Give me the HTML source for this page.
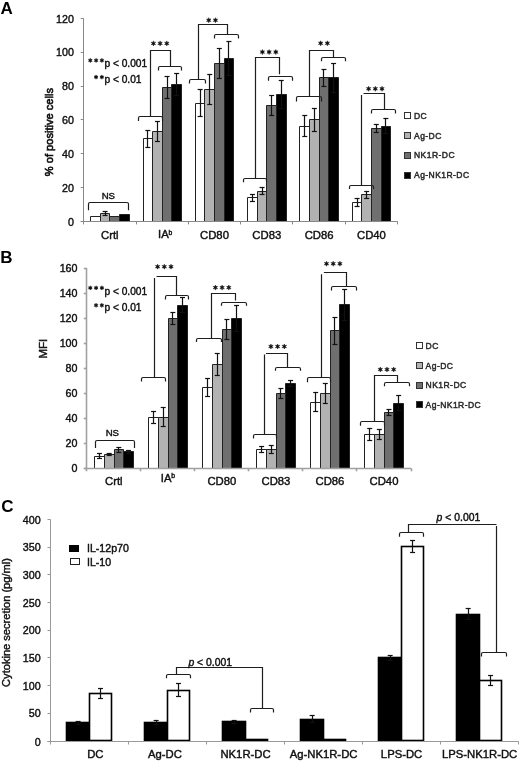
<!DOCTYPE html><html><head><meta charset="utf-8"><style>html,body{margin:0;padding:0;background:#fff;}svg{display:block;will-change:transform;}text{font-family:"Liberation Sans", sans-serif;}</style></head><body>
<svg width="520" height="762" viewBox="0 0 520 762">
<rect x="0" y="0" width="520" height="762" fill="#fff"/>
<text x="0.6" y="13.6" font-size="17" text-anchor="start" font-weight="bold" fill="#000" >A</text>
<text x="0.3" y="262.6" font-size="17" text-anchor="start" font-weight="bold" fill="#000" >B</text>
<text x="1.2" y="512.4" font-size="17" text-anchor="start" font-weight="bold" fill="#000" >C</text>
<rect x="90.5" y="216.5" width="10" height="5.5" fill="#ffffff"/>
<path d="M90.5 222 V216.5 H100.5 V222" fill="none" stroke="#222" stroke-width="1.0"/>
<rect x="100.5" y="213.5" width="9" height="8.5" fill="#b2b2b2"/>
<path d="M100.5 222 V213.5 H109.5 V222" fill="none" stroke="#222" stroke-width="1.0"/>
<rect x="109.5" y="216.5" width="10" height="5.5" fill="#6f6f6f"/>
<path d="M109.5 222 V216.5 H119.5 V222" fill="none" stroke="#222" stroke-width="1.0"/>
<rect x="119.5" y="214.5" width="10" height="7.5" fill="#000000"/>
<path d="M119.5 222 V214.5 H129.5 V222" fill="none" stroke="#222" stroke-width="1.0"/>
<line x1="105.5" y1="211.25" x2="105.5" y2="215.99" stroke="#111" stroke-width="1.2"/>
<line x1="102.6" y1="211.5" x2="107.6" y2="211.5" stroke="#111" stroke-width="1.2"/>
<line x1="102.6" y1="215.5" x2="107.6" y2="215.5" stroke="#111" stroke-width="1.2"/>
<rect x="143.5" y="138.5" width="9" height="83.5" fill="#ffffff"/>
<path d="M143.5 222 V138.5 H152.5 V222" fill="none" stroke="#222" stroke-width="1.0"/>
<rect x="152.5" y="131.5" width="10" height="90.5" fill="#b2b2b2"/>
<path d="M152.5 222 V131.5 H162.5 V222" fill="none" stroke="#222" stroke-width="1.0"/>
<rect x="162.5" y="87.5" width="9" height="134.5" fill="#6f6f6f"/>
<path d="M162.5 222 V87.5 H171.5 V222" fill="none" stroke="#222" stroke-width="1.0"/>
<rect x="171.5" y="84.5" width="10" height="137.5" fill="#000000"/>
<path d="M171.5 222 V84.5 H181.5 V222" fill="none" stroke="#222" stroke-width="1.0"/>
<line x1="147.5" y1="130.09" x2="147.5" y2="147" stroke="#111" stroke-width="1.2"/>
<line x1="145.32" y1="130.5" x2="150.32" y2="130.5" stroke="#111" stroke-width="1.2"/>
<line x1="145.32" y1="147.5" x2="150.32" y2="147.5" stroke="#111" stroke-width="1.2"/>
<line x1="157.5" y1="121.64" x2="157.5" y2="141.93" stroke="#111" stroke-width="1.2"/>
<line x1="154.92" y1="121.5" x2="159.92" y2="121.5" stroke="#111" stroke-width="1.2"/>
<line x1="154.92" y1="141.5" x2="159.92" y2="141.5" stroke="#111" stroke-width="1.2"/>
<line x1="167.5" y1="76.83" x2="167.5" y2="98.81" stroke="#111" stroke-width="1.2"/>
<line x1="164.52" y1="76.5" x2="169.52" y2="76.5" stroke="#111" stroke-width="1.2"/>
<line x1="164.52" y1="98.5" x2="169.52" y2="98.5" stroke="#111" stroke-width="1.2"/>
<line x1="176.5" y1="73.79" x2="176.5" y2="95.09" stroke="#111" stroke-width="1.2"/>
<line x1="174.12" y1="73.5" x2="179.12" y2="73.5" stroke="#111" stroke-width="1.2"/>
<line x1="174.12" y1="95.5" x2="179.12" y2="95.5" stroke="#111" stroke-width="1.2"/>
<rect x="195.5" y="103.5" width="9" height="118.5" fill="#ffffff"/>
<path d="M195.5 222 V103.5 H204.5 V222" fill="none" stroke="#222" stroke-width="1.0"/>
<rect x="204.5" y="89.5" width="10" height="132.5" fill="#b2b2b2"/>
<path d="M204.5 222 V89.5 H214.5 V222" fill="none" stroke="#222" stroke-width="1.0"/>
<rect x="214.5" y="63.5" width="10" height="158.5" fill="#6f6f6f"/>
<path d="M214.5 222 V63.5 H224.5 V222" fill="none" stroke="#222" stroke-width="1.0"/>
<rect x="224.5" y="58.5" width="9" height="163.5" fill="#000000"/>
<path d="M224.5 222 V58.5 H233.5 V222" fill="none" stroke="#222" stroke-width="1.0"/>
<line x1="200.5" y1="89.51" x2="200.5" y2="116.57" stroke="#111" stroke-width="1.2"/>
<line x1="197.63" y1="89.5" x2="202.63" y2="89.5" stroke="#111" stroke-width="1.2"/>
<line x1="197.63" y1="116.5" x2="202.63" y2="116.5" stroke="#111" stroke-width="1.2"/>
<line x1="209.5" y1="74.3" x2="209.5" y2="104.73" stroke="#111" stroke-width="1.2"/>
<line x1="207.23" y1="74.5" x2="212.23" y2="74.5" stroke="#111" stroke-width="1.2"/>
<line x1="207.23" y1="104.5" x2="212.23" y2="104.5" stroke="#111" stroke-width="1.2"/>
<line x1="219.5" y1="48.26" x2="219.5" y2="78.69" stroke="#111" stroke-width="1.2"/>
<line x1="216.83" y1="48.5" x2="221.83" y2="48.5" stroke="#111" stroke-width="1.2"/>
<line x1="216.83" y1="78.5" x2="221.83" y2="78.5" stroke="#111" stroke-width="1.2"/>
<line x1="228.5" y1="41.33" x2="228.5" y2="75.14" stroke="#111" stroke-width="1.2"/>
<line x1="226.43" y1="41.5" x2="231.43" y2="41.5" stroke="#111" stroke-width="1.2"/>
<line x1="226.43" y1="75.5" x2="231.43" y2="75.5" stroke="#111" stroke-width="1.2"/>
<rect x="247.5" y="197.5" width="10" height="24.5" fill="#ffffff"/>
<path d="M247.5 222 V197.5 H257.5 V222" fill="none" stroke="#222" stroke-width="1.0"/>
<rect x="257.5" y="191.5" width="9" height="30.5" fill="#b2b2b2"/>
<path d="M257.5 222 V191.5 H266.5 V222" fill="none" stroke="#222" stroke-width="1.0"/>
<rect x="266.5" y="105.5" width="10" height="116.5" fill="#6f6f6f"/>
<path d="M266.5 222 V105.5 H276.5 V222" fill="none" stroke="#222" stroke-width="1.0"/>
<rect x="276.5" y="94.5" width="10" height="127.5" fill="#000000"/>
<path d="M276.5 222 V94.5 H286.5 V222" fill="none" stroke="#222" stroke-width="1.0"/>
<line x1="252.5" y1="194.35" x2="252.5" y2="201.11" stroke="#111" stroke-width="1.2"/>
<line x1="249.95" y1="194.5" x2="254.95" y2="194.5" stroke="#111" stroke-width="1.2"/>
<line x1="249.95" y1="201.5" x2="254.95" y2="201.5" stroke="#111" stroke-width="1.2"/>
<line x1="262.5" y1="187.92" x2="262.5" y2="194.68" stroke="#111" stroke-width="1.2"/>
<line x1="259.55" y1="187.5" x2="264.55" y2="187.5" stroke="#111" stroke-width="1.2"/>
<line x1="259.55" y1="194.5" x2="264.55" y2="194.5" stroke="#111" stroke-width="1.2"/>
<line x1="271.5" y1="95.09" x2="271.5" y2="115.38" stroke="#111" stroke-width="1.2"/>
<line x1="269.15" y1="95.5" x2="274.15" y2="95.5" stroke="#111" stroke-width="1.2"/>
<line x1="269.15" y1="115.5" x2="274.15" y2="115.5" stroke="#111" stroke-width="1.2"/>
<line x1="281.5" y1="80.22" x2="281.5" y2="108.28" stroke="#111" stroke-width="1.2"/>
<line x1="278.75" y1="80.5" x2="283.75" y2="80.5" stroke="#111" stroke-width="1.2"/>
<line x1="278.75" y1="108.5" x2="283.75" y2="108.5" stroke="#111" stroke-width="1.2"/>
<rect x="299.5" y="126.5" width="10" height="95.5" fill="#ffffff"/>
<path d="M299.5 222 V126.5 H309.5 V222" fill="none" stroke="#222" stroke-width="1.0"/>
<rect x="309.5" y="119.5" width="10" height="102.5" fill="#b2b2b2"/>
<path d="M309.5 222 V119.5 H319.5 V222" fill="none" stroke="#222" stroke-width="1.0"/>
<rect x="319.5" y="77.5" width="9" height="144.5" fill="#6f6f6f"/>
<path d="M319.5 222 V77.5 H328.5 V222" fill="none" stroke="#222" stroke-width="1.0"/>
<rect x="328.5" y="77.5" width="10" height="144.5" fill="#000000"/>
<path d="M328.5 222 V77.5 H338.5 V222" fill="none" stroke="#222" stroke-width="1.0"/>
<line x1="304.5" y1="115.89" x2="304.5" y2="136.18" stroke="#111" stroke-width="1.2"/>
<line x1="302.27" y1="115.5" x2="307.27" y2="115.5" stroke="#111" stroke-width="1.2"/>
<line x1="302.27" y1="136.5" x2="307.27" y2="136.5" stroke="#111" stroke-width="1.2"/>
<line x1="314.5" y1="108.11" x2="314.5" y2="131.79" stroke="#111" stroke-width="1.2"/>
<line x1="311.87" y1="108.5" x2="316.87" y2="108.5" stroke="#111" stroke-width="1.2"/>
<line x1="311.87" y1="131.5" x2="316.87" y2="131.5" stroke="#111" stroke-width="1.2"/>
<line x1="323.5" y1="69.56" x2="323.5" y2="86.13" stroke="#111" stroke-width="1.2"/>
<line x1="321.47" y1="69.5" x2="326.47" y2="69.5" stroke="#111" stroke-width="1.2"/>
<line x1="321.47" y1="86.5" x2="326.47" y2="86.5" stroke="#111" stroke-width="1.2"/>
<line x1="333.5" y1="63.31" x2="333.5" y2="92.05" stroke="#111" stroke-width="1.2"/>
<line x1="331.07" y1="63.5" x2="336.07" y2="63.5" stroke="#111" stroke-width="1.2"/>
<line x1="331.07" y1="92.5" x2="336.07" y2="92.5" stroke="#111" stroke-width="1.2"/>
<rect x="352.5" y="202.5" width="9" height="19.5" fill="#ffffff"/>
<path d="M352.5 222 V202.5 H361.5 V222" fill="none" stroke="#222" stroke-width="1.0"/>
<rect x="361.5" y="194.5" width="10" height="27.5" fill="#b2b2b2"/>
<path d="M361.5 222 V194.5 H371.5 V222" fill="none" stroke="#222" stroke-width="1.0"/>
<rect x="371.5" y="128.5" width="10" height="93.5" fill="#6f6f6f"/>
<path d="M371.5 222 V128.5 H381.5 V222" fill="none" stroke="#222" stroke-width="1.0"/>
<rect x="381.5" y="126.5" width="9" height="95.5" fill="#000000"/>
<path d="M381.5 222 V126.5 H390.5 V222" fill="none" stroke="#222" stroke-width="1.0"/>
<line x1="357.5" y1="198.07" x2="357.5" y2="206.52" stroke="#111" stroke-width="1.2"/>
<line x1="354.58" y1="198.5" x2="359.58" y2="198.5" stroke="#111" stroke-width="1.2"/>
<line x1="354.58" y1="206.5" x2="359.58" y2="206.5" stroke="#111" stroke-width="1.2"/>
<line x1="366.5" y1="191.3" x2="366.5" y2="198.07" stroke="#111" stroke-width="1.2"/>
<line x1="364.18" y1="191.5" x2="369.18" y2="191.5" stroke="#111" stroke-width="1.2"/>
<line x1="364.18" y1="198.5" x2="369.18" y2="198.5" stroke="#111" stroke-width="1.2"/>
<line x1="376.5" y1="124.18" x2="376.5" y2="132.63" stroke="#111" stroke-width="1.2"/>
<line x1="373.78" y1="124.5" x2="378.78" y2="124.5" stroke="#111" stroke-width="1.2"/>
<line x1="373.78" y1="132.5" x2="378.78" y2="132.5" stroke="#111" stroke-width="1.2"/>
<line x1="385.5" y1="118.43" x2="385.5" y2="133.98" stroke="#111" stroke-width="1.2"/>
<line x1="383.38" y1="118.5" x2="388.38" y2="118.5" stroke="#111" stroke-width="1.2"/>
<line x1="383.38" y1="133.5" x2="388.38" y2="133.5" stroke="#111" stroke-width="1.2"/>
<line x1="83.5" y1="18.5" x2="83.5" y2="221.4" stroke="#888" stroke-width="1.0"/>
<line x1="80.7" y1="221.5" x2="397.6" y2="221.5" stroke="#888" stroke-width="1.0"/>
<line x1="80.7" y1="221.5" x2="83.7" y2="221.5" stroke="#888" stroke-width="1.0"/>
<text transform="translate(73.9 225.5) scale(0.94 1)" font-size="11.4" text-anchor="end" font-weight="normal" fill="#111" stroke="#111" stroke-width="0.42" >0</text>
<line x1="80.7" y1="187.5" x2="83.7" y2="187.5" stroke="#888" stroke-width="1.0"/>
<text transform="translate(73.9 191.69) scale(0.94 1)" font-size="11.4" text-anchor="end" font-weight="normal" fill="#111" stroke="#111" stroke-width="0.42" >20</text>
<line x1="80.7" y1="153.5" x2="83.7" y2="153.5" stroke="#888" stroke-width="1.0"/>
<text transform="translate(73.9 157.87) scale(0.94 1)" font-size="11.4" text-anchor="end" font-weight="normal" fill="#111" stroke="#111" stroke-width="0.42" >40</text>
<line x1="80.7" y1="119.5" x2="83.7" y2="119.5" stroke="#888" stroke-width="1.0"/>
<text transform="translate(73.9 124.05) scale(0.94 1)" font-size="11.4" text-anchor="end" font-weight="normal" fill="#111" stroke="#111" stroke-width="0.42" >60</text>
<line x1="80.7" y1="86.5" x2="83.7" y2="86.5" stroke="#888" stroke-width="1.0"/>
<text transform="translate(73.9 90.24) scale(0.94 1)" font-size="11.4" text-anchor="end" font-weight="normal" fill="#111" stroke="#111" stroke-width="0.42" >80</text>
<line x1="80.7" y1="52.5" x2="83.7" y2="52.5" stroke="#888" stroke-width="1.0"/>
<text transform="translate(73.9 56.42) scale(0.94 1)" font-size="11.4" text-anchor="end" font-weight="normal" fill="#111" stroke="#111" stroke-width="0.42" >100</text>
<line x1="80.7" y1="18.5" x2="83.7" y2="18.5" stroke="#888" stroke-width="1.0"/>
<text transform="translate(73.9 22.6) scale(0.94 1)" font-size="11.4" text-anchor="end" font-weight="normal" fill="#111" stroke="#111" stroke-width="0.42" >120</text>
<line x1="83.5" y1="221.4" x2="83.5" y2="224.4" stroke="#888" stroke-width="1.0"/>
<line x1="136.5" y1="221.4" x2="136.5" y2="224.4" stroke="#888" stroke-width="1.0"/>
<line x1="188.5" y1="221.4" x2="188.5" y2="224.4" stroke="#888" stroke-width="1.0"/>
<line x1="240.5" y1="221.4" x2="240.5" y2="224.4" stroke="#888" stroke-width="1.0"/>
<line x1="292.5" y1="221.4" x2="292.5" y2="224.4" stroke="#888" stroke-width="1.0"/>
<line x1="345.5" y1="221.4" x2="345.5" y2="224.4" stroke="#888" stroke-width="1.0"/>
<line x1="397.5" y1="221.4" x2="397.5" y2="224.4" stroke="#888" stroke-width="1.0"/>
<text x="109.86" y="239.2" font-size="11.3" text-anchor="middle" font-weight="normal" fill="#111" stroke="#111" stroke-width="0.42" >Crtl</text>
<text x="165.18" y="238.2" font-size="11.3" text-anchor="middle" fill="#111" stroke="#111" stroke-width="0.42">IA<tspan font-size="6.8" dx="-0.3" dy="-3.3">b</tspan></text>
<text x="214.49" y="239.2" font-size="11.3" text-anchor="middle" font-weight="normal" fill="#111" stroke="#111" stroke-width="0.42" >CD80</text>
<text x="266.81" y="239.2" font-size="11.3" text-anchor="middle" font-weight="normal" fill="#111" stroke="#111" stroke-width="0.42" >CD83</text>
<text x="319.13" y="239.2" font-size="11.3" text-anchor="middle" font-weight="normal" fill="#111" stroke="#111" stroke-width="0.42" >CD86</text>
<text x="371.44" y="239.2" font-size="11.3" text-anchor="middle" font-weight="normal" fill="#111" stroke="#111" stroke-width="0.42" >CD40</text>
<text transform="translate(53.1 132.15) rotate(-90)" font-size="11.1" font-weight="normal" text-anchor="middle" fill="#111" stroke="#111" stroke-width="0.65">% of positive cells</text>
<rect x="94.5" y="456.5" width="10" height="12.5" fill="#ffffff"/>
<path d="M94.5 469 V456.5 H104.5 V469" fill="none" stroke="#222" stroke-width="1.0"/>
<rect x="104.5" y="454.5" width="10" height="14.5" fill="#b2b2b2"/>
<path d="M104.5 469 V454.5 H114.5 V469" fill="none" stroke="#222" stroke-width="1.0"/>
<rect x="114.5" y="449.5" width="9" height="19.5" fill="#6f6f6f"/>
<path d="M114.5 469 V449.5 H123.5 V469" fill="none" stroke="#222" stroke-width="1.0"/>
<rect x="123.5" y="451.5" width="10" height="17.5" fill="#000000"/>
<path d="M123.5 469 V451.5 H133.5 V469" fill="none" stroke="#222" stroke-width="1.0"/>
<line x1="99.5" y1="453.78" x2="99.5" y2="458.79" stroke="#111" stroke-width="1.2"/>
<line x1="97.03" y1="453.5" x2="102.03" y2="453.5" stroke="#111" stroke-width="1.2"/>
<line x1="97.03" y1="458.5" x2="102.03" y2="458.5" stroke="#111" stroke-width="1.2"/>
<line x1="109.5" y1="453.65" x2="109.5" y2="455.66" stroke="#111" stroke-width="1.2"/>
<line x1="106.68" y1="453.5" x2="111.68" y2="453.5" stroke="#111" stroke-width="1.2"/>
<line x1="106.68" y1="455.5" x2="111.68" y2="455.5" stroke="#111" stroke-width="1.2"/>
<line x1="118.5" y1="447.02" x2="118.5" y2="452.03" stroke="#111" stroke-width="1.2"/>
<line x1="116.33" y1="447.5" x2="121.33" y2="447.5" stroke="#111" stroke-width="1.2"/>
<line x1="116.33" y1="452.5" x2="121.33" y2="452.5" stroke="#111" stroke-width="1.2"/>
<line x1="128.5" y1="450.15" x2="128.5" y2="453.15" stroke="#111" stroke-width="1.2"/>
<line x1="125.97" y1="450.5" x2="130.97" y2="450.5" stroke="#111" stroke-width="1.2"/>
<line x1="125.97" y1="453.5" x2="130.97" y2="453.5" stroke="#111" stroke-width="1.2"/>
<rect x="148.5" y="417.5" width="10" height="51.5" fill="#ffffff"/>
<path d="M148.5 469 V417.5 H158.5 V469" fill="none" stroke="#222" stroke-width="1.0"/>
<rect x="158.5" y="417.5" width="10" height="51.5" fill="#b2b2b2"/>
<path d="M158.5 469 V417.5 H168.5 V469" fill="none" stroke="#222" stroke-width="1.0"/>
<rect x="168.5" y="318.5" width="9" height="150.5" fill="#6f6f6f"/>
<path d="M168.5 469 V318.5 H177.5 V469" fill="none" stroke="#222" stroke-width="1.0"/>
<rect x="177.5" y="305.5" width="10" height="163.5" fill="#000000"/>
<path d="M177.5 469 V305.5 H187.5 V469" fill="none" stroke="#222" stroke-width="1.0"/>
<line x1="153.5" y1="411.46" x2="153.5" y2="423.98" stroke="#111" stroke-width="1.2"/>
<line x1="151.06" y1="411.5" x2="156.06" y2="411.5" stroke="#111" stroke-width="1.2"/>
<line x1="151.06" y1="423.5" x2="156.06" y2="423.5" stroke="#111" stroke-width="1.2"/>
<line x1="163.5" y1="407.71" x2="163.5" y2="426.74" stroke="#111" stroke-width="1.2"/>
<line x1="160.71" y1="407.5" x2="165.71" y2="407.5" stroke="#111" stroke-width="1.2"/>
<line x1="160.71" y1="426.5" x2="165.71" y2="426.5" stroke="#111" stroke-width="1.2"/>
<line x1="172.5" y1="312.32" x2="172.5" y2="324.84" stroke="#111" stroke-width="1.2"/>
<line x1="170.36" y1="312.5" x2="175.36" y2="312.5" stroke="#111" stroke-width="1.2"/>
<line x1="170.36" y1="324.5" x2="175.36" y2="324.5" stroke="#111" stroke-width="1.2"/>
<line x1="182.5" y1="297.67" x2="182.5" y2="312.69" stroke="#111" stroke-width="1.2"/>
<line x1="180.01" y1="297.5" x2="185.01" y2="297.5" stroke="#111" stroke-width="1.2"/>
<line x1="180.01" y1="312.5" x2="185.01" y2="312.5" stroke="#111" stroke-width="1.2"/>
<rect x="202.5" y="387.5" width="10" height="81.5" fill="#ffffff"/>
<path d="M202.5 469 V387.5 H212.5 V469" fill="none" stroke="#222" stroke-width="1.0"/>
<rect x="212.5" y="364.5" width="10" height="104.5" fill="#b2b2b2"/>
<path d="M212.5 469 V364.5 H222.5 V469" fill="none" stroke="#222" stroke-width="1.0"/>
<rect x="222.5" y="329.5" width="9" height="139.5" fill="#6f6f6f"/>
<path d="M222.5 469 V329.5 H231.5 V469" fill="none" stroke="#222" stroke-width="1.0"/>
<rect x="231.5" y="318.5" width="10" height="150.5" fill="#000000"/>
<path d="M231.5 469 V318.5 H241.5 V469" fill="none" stroke="#222" stroke-width="1.0"/>
<line x1="207.5" y1="378.92" x2="207.5" y2="396.19" stroke="#111" stroke-width="1.2"/>
<line x1="205.09" y1="378.5" x2="210.09" y2="378.5" stroke="#111" stroke-width="1.2"/>
<line x1="205.09" y1="396.5" x2="210.09" y2="396.5" stroke="#111" stroke-width="1.2"/>
<line x1="217.5" y1="353.38" x2="217.5" y2="375.16" stroke="#111" stroke-width="1.2"/>
<line x1="214.74" y1="353.5" x2="219.74" y2="353.5" stroke="#111" stroke-width="1.2"/>
<line x1="214.74" y1="375.5" x2="219.74" y2="375.5" stroke="#111" stroke-width="1.2"/>
<line x1="226.5" y1="319.45" x2="226.5" y2="339.48" stroke="#111" stroke-width="1.2"/>
<line x1="224.39" y1="319.5" x2="229.39" y2="319.5" stroke="#111" stroke-width="1.2"/>
<line x1="224.39" y1="339.5" x2="229.39" y2="339.5" stroke="#111" stroke-width="1.2"/>
<line x1="236.5" y1="305.18" x2="236.5" y2="331.97" stroke="#111" stroke-width="1.2"/>
<line x1="234.04" y1="305.5" x2="239.04" y2="305.5" stroke="#111" stroke-width="1.2"/>
<line x1="234.04" y1="331.5" x2="239.04" y2="331.5" stroke="#111" stroke-width="1.2"/>
<rect x="256.5" y="449.5" width="10" height="19.5" fill="#ffffff"/>
<path d="M256.5 469 V449.5 H266.5 V469" fill="none" stroke="#222" stroke-width="1.0"/>
<rect x="266.5" y="449.5" width="10" height="19.5" fill="#b2b2b2"/>
<path d="M266.5 469 V449.5 H276.5 V469" fill="none" stroke="#222" stroke-width="1.0"/>
<rect x="276.5" y="393.5" width="9" height="75.5" fill="#6f6f6f"/>
<path d="M276.5 469 V393.5 H285.5 V469" fill="none" stroke="#222" stroke-width="1.0"/>
<rect x="285.5" y="383.5" width="10" height="85.5" fill="#000000"/>
<path d="M285.5 469 V383.5 H295.5 V469" fill="none" stroke="#222" stroke-width="1.0"/>
<line x1="261.5" y1="446.39" x2="261.5" y2="452.65" stroke="#111" stroke-width="1.2"/>
<line x1="259.12" y1="446.5" x2="264.12" y2="446.5" stroke="#111" stroke-width="1.2"/>
<line x1="259.12" y1="452.5" x2="264.12" y2="452.5" stroke="#111" stroke-width="1.2"/>
<line x1="271.5" y1="445.77" x2="271.5" y2="453.28" stroke="#111" stroke-width="1.2"/>
<line x1="268.77" y1="445.5" x2="273.77" y2="445.5" stroke="#111" stroke-width="1.2"/>
<line x1="268.77" y1="453.5" x2="273.77" y2="453.5" stroke="#111" stroke-width="1.2"/>
<line x1="280.5" y1="388.68" x2="280.5" y2="398.7" stroke="#111" stroke-width="1.2"/>
<line x1="278.42" y1="388.5" x2="283.42" y2="388.5" stroke="#111" stroke-width="1.2"/>
<line x1="278.42" y1="398.5" x2="283.42" y2="398.5" stroke="#111" stroke-width="1.2"/>
<line x1="290.5" y1="380.04" x2="290.5" y2="386.05" stroke="#111" stroke-width="1.2"/>
<line x1="288.07" y1="380.5" x2="293.07" y2="380.5" stroke="#111" stroke-width="1.2"/>
<line x1="288.07" y1="386.5" x2="293.07" y2="386.5" stroke="#111" stroke-width="1.2"/>
<rect x="310.5" y="402.5" width="10" height="66.5" fill="#ffffff"/>
<path d="M310.5 469 V402.5 H320.5 V469" fill="none" stroke="#222" stroke-width="1.0"/>
<rect x="320.5" y="393.5" width="10" height="75.5" fill="#b2b2b2"/>
<path d="M320.5 469 V393.5 H330.5 V469" fill="none" stroke="#222" stroke-width="1.0"/>
<rect x="330.5" y="330.5" width="9" height="138.5" fill="#6f6f6f"/>
<path d="M330.5 469 V330.5 H339.5 V469" fill="none" stroke="#222" stroke-width="1.0"/>
<rect x="339.5" y="304.5" width="10" height="164.5" fill="#000000"/>
<path d="M339.5 469 V304.5 H349.5 V469" fill="none" stroke="#222" stroke-width="1.0"/>
<line x1="315.5" y1="392.31" x2="315.5" y2="411.84" stroke="#111" stroke-width="1.2"/>
<line x1="313.16" y1="392.5" x2="318.16" y2="392.5" stroke="#111" stroke-width="1.2"/>
<line x1="313.16" y1="411.5" x2="318.16" y2="411.5" stroke="#111" stroke-width="1.2"/>
<line x1="325.5" y1="383.67" x2="325.5" y2="403.7" stroke="#111" stroke-width="1.2"/>
<line x1="322.81" y1="383.5" x2="327.81" y2="383.5" stroke="#111" stroke-width="1.2"/>
<line x1="322.81" y1="403.5" x2="327.81" y2="403.5" stroke="#111" stroke-width="1.2"/>
<line x1="334.5" y1="317.07" x2="334.5" y2="344.36" stroke="#111" stroke-width="1.2"/>
<line x1="332.46" y1="317.5" x2="337.46" y2="317.5" stroke="#111" stroke-width="1.2"/>
<line x1="332.46" y1="344.5" x2="337.46" y2="344.5" stroke="#111" stroke-width="1.2"/>
<line x1="344.5" y1="289.16" x2="344.5" y2="320.7" stroke="#111" stroke-width="1.2"/>
<line x1="342.11" y1="289.5" x2="347.11" y2="289.5" stroke="#111" stroke-width="1.2"/>
<line x1="342.11" y1="320.5" x2="347.11" y2="320.5" stroke="#111" stroke-width="1.2"/>
<rect x="364.5" y="434.5" width="10" height="34.5" fill="#ffffff"/>
<path d="M364.5 469 V434.5 H374.5 V469" fill="none" stroke="#222" stroke-width="1.0"/>
<rect x="374.5" y="434.5" width="10" height="34.5" fill="#b2b2b2"/>
<path d="M374.5 469 V434.5 H384.5 V469" fill="none" stroke="#222" stroke-width="1.0"/>
<rect x="384.5" y="412.5" width="9" height="56.5" fill="#6f6f6f"/>
<path d="M384.5 469 V412.5 H393.5 V469" fill="none" stroke="#222" stroke-width="1.0"/>
<rect x="393.5" y="403.5" width="10" height="65.5" fill="#000000"/>
<path d="M393.5 469 V403.5 H403.5 V469" fill="none" stroke="#222" stroke-width="1.0"/>
<line x1="369.5" y1="428.87" x2="369.5" y2="440.13" stroke="#111" stroke-width="1.2"/>
<line x1="367.19" y1="428.5" x2="372.19" y2="428.5" stroke="#111" stroke-width="1.2"/>
<line x1="367.19" y1="440.5" x2="372.19" y2="440.5" stroke="#111" stroke-width="1.2"/>
<line x1="379.5" y1="429.49" x2="379.5" y2="439.51" stroke="#111" stroke-width="1.2"/>
<line x1="376.84" y1="429.5" x2="381.84" y2="429.5" stroke="#111" stroke-width="1.2"/>
<line x1="376.84" y1="439.5" x2="381.84" y2="439.5" stroke="#111" stroke-width="1.2"/>
<line x1="388.5" y1="409.21" x2="388.5" y2="415.47" stroke="#111" stroke-width="1.2"/>
<line x1="386.49" y1="409.5" x2="391.49" y2="409.5" stroke="#111" stroke-width="1.2"/>
<line x1="386.49" y1="415.5" x2="391.49" y2="415.5" stroke="#111" stroke-width="1.2"/>
<line x1="398.5" y1="395.69" x2="398.5" y2="410.71" stroke="#111" stroke-width="1.2"/>
<line x1="396.14" y1="395.5" x2="401.14" y2="395.5" stroke="#111" stroke-width="1.2"/>
<line x1="396.14" y1="410.5" x2="401.14" y2="410.5" stroke="#111" stroke-width="1.2"/>
<line x1="86.5" y1="268" x2="86.5" y2="468.3" stroke="#a0a0a0" stroke-width="1.6"/>
<line x1="83.8" y1="468.5" x2="411" y2="468.5" stroke="#a0a0a0" stroke-width="1.6"/>
<line x1="83.8" y1="468.5" x2="86.8" y2="468.5" stroke="#a0a0a0" stroke-width="1.6"/>
<text transform="translate(77.5 472.4) scale(0.94 1)" font-size="11.4" text-anchor="end" font-weight="normal" fill="#111" stroke="#111" stroke-width="0.42" >0</text>
<line x1="83.8" y1="443.5" x2="86.8" y2="443.5" stroke="#a0a0a0" stroke-width="1.6"/>
<text transform="translate(77.5 447.37) scale(0.94 1)" font-size="11.4" text-anchor="end" font-weight="normal" fill="#111" stroke="#111" stroke-width="0.42" >20</text>
<line x1="83.8" y1="418.5" x2="86.8" y2="418.5" stroke="#a0a0a0" stroke-width="1.6"/>
<text transform="translate(77.5 422.33) scale(0.94 1)" font-size="11.4" text-anchor="end" font-weight="normal" fill="#111" stroke="#111" stroke-width="0.42" >40</text>
<line x1="83.8" y1="393.5" x2="86.8" y2="393.5" stroke="#a0a0a0" stroke-width="1.6"/>
<text transform="translate(77.5 397.29) scale(0.94 1)" font-size="11.4" text-anchor="end" font-weight="normal" fill="#111" stroke="#111" stroke-width="0.42" >60</text>
<line x1="83.8" y1="368.5" x2="86.8" y2="368.5" stroke="#a0a0a0" stroke-width="1.6"/>
<text transform="translate(77.5 372.25) scale(0.94 1)" font-size="11.4" text-anchor="end" font-weight="normal" fill="#111" stroke="#111" stroke-width="0.42" >80</text>
<line x1="83.8" y1="343.5" x2="86.8" y2="343.5" stroke="#a0a0a0" stroke-width="1.6"/>
<text transform="translate(77.5 347.22) scale(0.94 1)" font-size="11.4" text-anchor="end" font-weight="normal" fill="#111" stroke="#111" stroke-width="0.42" >100</text>
<line x1="83.8" y1="318.5" x2="86.8" y2="318.5" stroke="#a0a0a0" stroke-width="1.6"/>
<text transform="translate(77.5 322.18) scale(0.94 1)" font-size="11.4" text-anchor="end" font-weight="normal" fill="#111" stroke="#111" stroke-width="0.42" >120</text>
<line x1="83.8" y1="293.5" x2="86.8" y2="293.5" stroke="#a0a0a0" stroke-width="1.6"/>
<text transform="translate(77.5 297.14) scale(0.94 1)" font-size="11.4" text-anchor="end" font-weight="normal" fill="#111" stroke="#111" stroke-width="0.42" >140</text>
<line x1="83.8" y1="268.5" x2="86.8" y2="268.5" stroke="#a0a0a0" stroke-width="1.6"/>
<text transform="translate(77.5 272.1) scale(0.94 1)" font-size="11.4" text-anchor="end" font-weight="normal" fill="#111" stroke="#111" stroke-width="0.42" >160</text>
<line x1="86.5" y1="468.3" x2="86.5" y2="471.3" stroke="#a0a0a0" stroke-width="1.6"/>
<line x1="140.5" y1="468.3" x2="140.5" y2="471.3" stroke="#a0a0a0" stroke-width="1.6"/>
<line x1="194.5" y1="468.3" x2="194.5" y2="471.3" stroke="#a0a0a0" stroke-width="1.6"/>
<line x1="248.5" y1="468.3" x2="248.5" y2="471.3" stroke="#a0a0a0" stroke-width="1.6"/>
<line x1="302.5" y1="468.3" x2="302.5" y2="471.3" stroke="#a0a0a0" stroke-width="1.6"/>
<line x1="356.5" y1="468.3" x2="356.5" y2="471.3" stroke="#a0a0a0" stroke-width="1.6"/>
<line x1="411.5" y1="468.3" x2="411.5" y2="471.3" stroke="#a0a0a0" stroke-width="1.6"/>
<text x="113.82" y="484.8" font-size="11.3" text-anchor="middle" font-weight="normal" fill="#111" stroke="#111" stroke-width="0.42" >Crtl</text>
<text x="167.85" y="481.5" font-size="11.3" text-anchor="middle" fill="#111" stroke="#111" stroke-width="0.42">IA<tspan font-size="6.8" dx="-0.3" dy="-3.3">b</tspan></text>
<text x="221.88" y="484.8" font-size="11.3" text-anchor="middle" font-weight="normal" fill="#111" stroke="#111" stroke-width="0.42" >CD80</text>
<text x="275.92" y="484.8" font-size="11.3" text-anchor="middle" font-weight="normal" fill="#111" stroke="#111" stroke-width="0.42" >CD83</text>
<text x="329.95" y="484.8" font-size="11.3" text-anchor="middle" font-weight="normal" fill="#111" stroke="#111" stroke-width="0.42" >CD86</text>
<text x="383.98" y="484.8" font-size="11.3" text-anchor="middle" font-weight="normal" fill="#111" stroke="#111" stroke-width="0.42" >CD40</text>
<text transform="translate(47.4 348.6) rotate(-90)" font-size="11.5" font-weight="normal" text-anchor="middle" fill="#111" stroke="#111" stroke-width="0.42">MFI</text>
<rect x="66.5" y="722.5" width="23" height="18" fill="#000" stroke="#000" stroke-width="1.6"/>
<rect x="89.5" y="693.5" width="22" height="47" fill="#fff" stroke="#000" stroke-width="1.6"/>
<line x1="78.5" y1="721.59" x2="78.5" y2="724.35" stroke="#111" stroke-width="1.2"/>
<line x1="75.6" y1="721.5" x2="80.6" y2="721.5" stroke="#111" stroke-width="1.2"/>
<line x1="75.6" y1="724.5" x2="80.6" y2="724.5" stroke="#111" stroke-width="1.2"/>
<line x1="100.5" y1="688.64" x2="100.5" y2="698.58" stroke="#111" stroke-width="1.2"/>
<line x1="98" y1="688.5" x2="103" y2="688.5" stroke="#111" stroke-width="1.2"/>
<line x1="98" y1="698.5" x2="103" y2="698.5" stroke="#111" stroke-width="1.2"/>
<rect x="144.5" y="722.5" width="23" height="18" fill="#000" stroke="#000" stroke-width="1.6"/>
<rect x="167.5" y="690.5" width="22" height="50" fill="#fff" stroke="#000" stroke-width="1.6"/>
<line x1="156.5" y1="720.27" x2="156.5" y2="724.68" stroke="#111" stroke-width="1.2"/>
<line x1="153.62" y1="720.5" x2="158.62" y2="720.5" stroke="#111" stroke-width="1.2"/>
<line x1="153.62" y1="724.5" x2="158.62" y2="724.5" stroke="#111" stroke-width="1.2"/>
<line x1="178.5" y1="683.12" x2="178.5" y2="696.92" stroke="#111" stroke-width="1.2"/>
<line x1="176.02" y1="683.5" x2="181.02" y2="683.5" stroke="#111" stroke-width="1.2"/>
<line x1="176.02" y1="696.5" x2="181.02" y2="696.5" stroke="#111" stroke-width="1.2"/>
<rect x="222.5" y="721.5" width="23" height="19" fill="#000" stroke="#000" stroke-width="1.6"/>
<rect x="245.5" y="739.5" width="22" height="1" fill="#fff" stroke="#000" stroke-width="1.6"/>
<line x1="234.5" y1="720.16" x2="234.5" y2="723.47" stroke="#111" stroke-width="1.2"/>
<line x1="231.63" y1="720.5" x2="236.63" y2="720.5" stroke="#111" stroke-width="1.2"/>
<line x1="231.63" y1="723.5" x2="236.63" y2="723.5" stroke="#111" stroke-width="1.2"/>
<rect x="300.5" y="719.5" width="23" height="21" fill="#000" stroke="#000" stroke-width="1.6"/>
<rect x="323.5" y="739.5" width="22" height="1" fill="#fff" stroke="#000" stroke-width="1.6"/>
<line x1="312.5" y1="715.8" x2="312.5" y2="722.42" stroke="#111" stroke-width="1.2"/>
<line x1="309.65" y1="715.5" x2="314.65" y2="715.5" stroke="#111" stroke-width="1.2"/>
<line x1="309.65" y1="722.5" x2="314.65" y2="722.5" stroke="#111" stroke-width="1.2"/>
<rect x="378.5" y="657.5" width="23" height="83" fill="#000" stroke="#000" stroke-width="1.6"/>
<rect x="401.5" y="546.5" width="22" height="194" fill="#fff" stroke="#000" stroke-width="1.6"/>
<line x1="390.5" y1="655.63" x2="390.5" y2="660.05" stroke="#111" stroke-width="1.2"/>
<line x1="387.67" y1="655.5" x2="392.67" y2="655.5" stroke="#111" stroke-width="1.2"/>
<line x1="387.67" y1="660.5" x2="392.67" y2="660.5" stroke="#111" stroke-width="1.2"/>
<line x1="412.5" y1="540.99" x2="412.5" y2="552.58" stroke="#111" stroke-width="1.2"/>
<line x1="410.07" y1="540.5" x2="415.07" y2="540.5" stroke="#111" stroke-width="1.2"/>
<line x1="410.07" y1="552.5" x2="415.07" y2="552.5" stroke="#111" stroke-width="1.2"/>
<rect x="456.5" y="614.5" width="23" height="126" fill="#000" stroke="#000" stroke-width="1.6"/>
<rect x="479.5" y="680.5" width="22" height="60" fill="#fff" stroke="#000" stroke-width="1.6"/>
<line x1="468.5" y1="608.44" x2="468.5" y2="619.81" stroke="#111" stroke-width="1.2"/>
<line x1="465.68" y1="608.5" x2="470.68" y2="608.5" stroke="#111" stroke-width="1.2"/>
<line x1="465.68" y1="619.5" x2="470.68" y2="619.5" stroke="#111" stroke-width="1.2"/>
<line x1="490.5" y1="675.28" x2="490.5" y2="685.22" stroke="#111" stroke-width="1.2"/>
<line x1="488.08" y1="675.5" x2="493.08" y2="675.5" stroke="#111" stroke-width="1.2"/>
<line x1="488.08" y1="685.5" x2="493.08" y2="685.5" stroke="#111" stroke-width="1.2"/>
<line x1="50.5" y1="519.4" x2="50.5" y2="741.5" stroke="#999" stroke-width="1.0"/>
<line x1="47.5" y1="741.5" x2="518.6" y2="741.5" stroke="#999" stroke-width="1.0"/>
<line x1="47.5" y1="741.5" x2="50.5" y2="741.5" stroke="#999" stroke-width="1.0"/>
<text transform="translate(40.7 745.6) scale(0.94 1)" font-size="11.4" text-anchor="end" font-weight="normal" fill="#111" stroke="#111" stroke-width="0.42" >0</text>
<line x1="47.5" y1="713.5" x2="50.5" y2="713.5" stroke="#999" stroke-width="1.0"/>
<text transform="translate(40.7 717.49) scale(0.94 1)" font-size="11.4" text-anchor="end" font-weight="normal" fill="#111" stroke="#111" stroke-width="0.42" >50</text>
<line x1="47.5" y1="685.5" x2="50.5" y2="685.5" stroke="#999" stroke-width="1.0"/>
<text transform="translate(40.7 689.78) scale(0.94 1)" font-size="11.4" text-anchor="end" font-weight="normal" fill="#111" stroke="#111" stroke-width="0.42" >100</text>
<line x1="47.5" y1="657.5" x2="50.5" y2="657.5" stroke="#999" stroke-width="1.0"/>
<text transform="translate(40.7 662.07) scale(0.94 1)" font-size="11.4" text-anchor="end" font-weight="normal" fill="#111" stroke="#111" stroke-width="0.42" >150</text>
<line x1="47.5" y1="630.5" x2="50.5" y2="630.5" stroke="#999" stroke-width="1.0"/>
<text transform="translate(40.7 634.35) scale(0.94 1)" font-size="11.4" text-anchor="end" font-weight="normal" fill="#111" stroke="#111" stroke-width="0.42" >200</text>
<line x1="47.5" y1="602.5" x2="50.5" y2="602.5" stroke="#999" stroke-width="1.0"/>
<text transform="translate(40.7 606.64) scale(0.94 1)" font-size="11.4" text-anchor="end" font-weight="normal" fill="#111" stroke="#111" stroke-width="0.42" >250</text>
<line x1="47.5" y1="574.5" x2="50.5" y2="574.5" stroke="#999" stroke-width="1.0"/>
<text transform="translate(40.7 578.93) scale(0.94 1)" font-size="11.4" text-anchor="end" font-weight="normal" fill="#111" stroke="#111" stroke-width="0.42" >300</text>
<line x1="47.5" y1="547.5" x2="50.5" y2="547.5" stroke="#999" stroke-width="1.0"/>
<text transform="translate(40.7 551.22) scale(0.94 1)" font-size="11.4" text-anchor="end" font-weight="normal" fill="#111" stroke="#111" stroke-width="0.42" >350</text>
<line x1="47.5" y1="519.5" x2="50.5" y2="519.5" stroke="#999" stroke-width="1.0"/>
<text transform="translate(40.7 523.5) scale(0.94 1)" font-size="11.4" text-anchor="end" font-weight="normal" fill="#111" stroke="#111" stroke-width="0.42" >400</text>
<line x1="50.5" y1="741.5" x2="50.5" y2="744.5" stroke="#999" stroke-width="1.0"/>
<line x1="128.5" y1="741.5" x2="128.5" y2="744.5" stroke="#999" stroke-width="1.0"/>
<line x1="206.5" y1="741.5" x2="206.5" y2="744.5" stroke="#999" stroke-width="1.0"/>
<line x1="284.5" y1="741.5" x2="284.5" y2="744.5" stroke="#999" stroke-width="1.0"/>
<line x1="362.5" y1="741.5" x2="362.5" y2="744.5" stroke="#999" stroke-width="1.0"/>
<line x1="440.5" y1="741.5" x2="440.5" y2="744.5" stroke="#999" stroke-width="1.0"/>
<line x1="518.5" y1="741.5" x2="518.5" y2="744.5" stroke="#999" stroke-width="1.0"/>
<text x="95.31" y="758" font-size="11.3" text-anchor="middle" font-weight="normal" fill="#111" stroke="#111" stroke-width="0.42" >DC</text>
<text x="164.92" y="758" font-size="11.3" text-anchor="middle" font-weight="normal" fill="#111" stroke="#111" stroke-width="0.42" >Ag-DC</text>
<text x="245.54" y="758" font-size="11.3" text-anchor="middle" font-weight="normal" fill="#111" stroke="#111" stroke-width="0.42" >NK1R-DC</text>
<text x="323.56" y="758" font-size="11.3" text-anchor="middle" font-weight="normal" fill="#111" stroke="#111" stroke-width="0.42" >Ag-NK1R-DC</text>
<text x="401.57" y="758" font-size="11.3" text-anchor="middle" font-weight="normal" fill="#111" stroke="#111" stroke-width="0.42" >LPS-DC</text>
<text x="479.59" y="758" font-size="11.3" text-anchor="middle" font-weight="normal" fill="#111" stroke="#111" stroke-width="0.42" >LPS-NK1R-DC</text>
<text transform="translate(10.2 622.5) rotate(-90)" font-size="11.1" font-weight="normal" text-anchor="middle" fill="#111" stroke="#111" stroke-width="0.42">Cytokine secretion  (pg/ml)</text>
<path d="M88.5 210.2 V204 Q88.5 202.5 90 202.5 H127 Q128.5 202.5 128.5 204 V210.2" fill="none" stroke="#1e1e1e" stroke-width="1.2"/>
<text x="108.3" y="199.2" font-size="9.6" text-anchor="middle" font-weight="normal" fill="#111" stroke="#111" stroke-width="0.42" >NS</text>
<path d="M138.5 120.9 V118 Q138.5 116.5 140 116.5 H161 Q162.5 116.5 162.5 118 V120.9" fill="none" stroke="#1e1e1e" stroke-width="1.2"/>
<path d="M150.5 116.5 V50.5 H170.5 V66.5" fill="none" stroke="#1e1e1e" stroke-width="1.2"/>
<path d="M158.5 70.6 V68 Q158.5 66.5 160 66.5 H180 Q181.5 66.5 181.5 68 V70.6" fill="none" stroke="#1e1e1e" stroke-width="1.2"/>
<path d="M153.4 40.9L153.97 42.4L155.57 42.15L154.55 43.4L155.57 44.65L153.97 44.4L153.4 45.9L152.83 44.4L151.23 44.65L152.25 43.4L151.23 42.15L152.83 42.4ZM160.1 40.9L160.67 42.4L162.27 42.15L161.25 43.4L162.27 44.65L160.67 44.4L160.1 45.9L159.53 44.4L157.93 44.65L158.95 43.4L157.93 42.15L159.53 42.4ZM166.8 40.9L167.38 42.4L168.97 42.15L167.95 43.4L168.97 44.65L167.38 44.4L166.8 45.9L166.23 44.4L164.63 44.65L165.65 43.4L164.63 42.15L166.23 42.4Z" fill="#111" stroke="#111" stroke-width="0.5" stroke-linejoin="round"/>
<path d="M189.5 83.6 V81 Q189.5 79.5 191 79.5 H204 Q205.5 79.5 205.5 81 V83.6" fill="none" stroke="#1e1e1e" stroke-width="1.2"/>
<path d="M198.5 79.5 V24.5 H227.5 V34.5" fill="none" stroke="#1e1e1e" stroke-width="1.2"/>
<path d="M214.5 38.6 V36 Q214.5 34.5 216 34.5 H237 Q238.5 34.5 238.5 36 V38.6" fill="none" stroke="#1e1e1e" stroke-width="1.2"/>
<path d="M208.75 17.7L209.32 19.2L210.92 18.95L209.9 20.2L210.92 21.45L209.32 21.2L208.75 22.7L208.18 21.2L206.58 21.45L207.6 20.2L206.58 18.95L208.18 19.2ZM215.45 17.7L216.02 19.2L217.62 18.95L216.6 20.2L217.62 21.45L216.02 21.2L215.45 22.7L214.88 21.2L213.28 21.45L214.3 20.2L213.28 18.95L214.88 19.2Z" fill="#111" stroke="#111" stroke-width="0.5" stroke-linejoin="round"/>
<path d="M243.5 182.2 V180 Q243.5 178.5 245 178.5 H265 Q266.5 178.5 266.5 180 V182.2" fill="none" stroke="#1e1e1e" stroke-width="1.2"/>
<path d="M255.5 178.5 V57.5 H279.5 V74.2" fill="none" stroke="#1e1e1e" stroke-width="1.2"/>
<path d="M268.5 80.8 V78 Q268.5 76.5 270 76.5 H291 Q292.5 76.5 292.5 78 V80.8" fill="none" stroke="#1e1e1e" stroke-width="1.2"/>
<path d="M262.4 49.6L262.98 51.1L264.57 50.85L263.55 52.1L264.57 53.35L262.98 53.1L262.4 54.6L261.83 53.1L260.23 53.35L261.25 52.1L260.23 50.85L261.83 51.1ZM269.1 49.6L269.68 51.1L271.27 50.85L270.25 52.1L271.27 53.35L269.68 53.1L269.1 54.6L268.53 53.1L266.93 53.35L267.95 52.1L266.93 50.85L268.53 51.1ZM275.8 49.6L276.38 51.1L277.97 50.85L276.95 52.1L277.97 53.35L276.38 53.1L275.8 54.6L275.23 53.1L273.63 53.35L274.65 52.1L273.63 50.85L275.23 51.1Z" fill="#111" stroke="#111" stroke-width="0.5" stroke-linejoin="round"/>
<path d="M296.5 101.5 V98 Q296.5 96.5 298 96.5 H320 Q321.5 96.5 321.5 98 V101.5" fill="none" stroke="#1e1e1e" stroke-width="1.2"/>
<path d="M309.5 96.5 V50.5 H333.5 V57.5" fill="none" stroke="#1e1e1e" stroke-width="1.2"/>
<path d="M321.5 61.3 V59 Q321.5 57.5 323 57.5 H344 Q345.5 57.5 345.5 59 V61.3" fill="none" stroke="#1e1e1e" stroke-width="1.2"/>
<path d="M320.65 40.8L321.22 42.3L322.82 42.05L321.8 43.3L322.82 44.55L321.22 44.3L320.65 45.8L320.07 44.3L318.48 44.55L319.5 43.3L318.48 42.05L320.07 42.3ZM327.35 40.8L327.92 42.3L329.52 42.05L328.5 43.3L329.52 44.55L327.92 44.3L327.35 45.8L326.77 44.3L325.18 44.55L326.2 43.3L325.18 42.05L326.77 42.3Z" fill="#111" stroke="#111" stroke-width="0.5" stroke-linejoin="round"/>
<path d="M349.5 189 V187 Q349.5 185.5 351 185.5 H372 Q373.5 185.5 373.5 187 V189" fill="none" stroke="#1e1e1e" stroke-width="1.2"/>
<path d="M361.5 185.5 V94.9 M363.5 93.5 H384.5 V109.5" fill="none" stroke="#1e1e1e" stroke-width="1.2"/>
<path d="M371.5 113.4 V111 Q371.5 109.5 373 109.5 H394 Q395.5 109.5 395.5 111 V113.4" fill="none" stroke="#1e1e1e" stroke-width="1.2"/>
<path d="M368.6 86.3L369.18 87.8L370.77 87.55L369.75 88.8L370.77 90.05L369.18 89.8L368.6 91.3L368.03 89.8L366.43 90.05L367.45 88.8L366.43 87.55L368.03 87.8ZM375.3 86.3L375.88 87.8L377.47 87.55L376.45 88.8L377.47 90.05L375.88 89.8L375.3 91.3L374.73 89.8L373.13 90.05L374.15 88.8L373.13 87.55L374.73 87.8ZM382 86.3L382.57 87.8L384.17 87.55L383.15 88.8L384.17 90.05L382.57 89.8L382 91.3L381.43 89.8L379.83 90.05L380.85 88.8L379.83 87.55L381.43 87.8Z" fill="#111" stroke="#111" stroke-width="0.5" stroke-linejoin="round"/>
<path d="M95.5 448 V442 Q95.5 440.5 97 440.5 H133 Q134.5 440.5 134.5 442 V448" fill="none" stroke="#1e1e1e" stroke-width="1.2"/>
<text x="112.3" y="435.5" font-size="9.6" text-anchor="middle" font-weight="normal" fill="#111" stroke="#111" stroke-width="0.42" >NS</text>
<path d="M141.5 381.4 V379 Q141.5 377.5 143 377.5 H164 Q165.5 377.5 165.5 379 V381.4" fill="none" stroke="#1e1e1e" stroke-width="1.2"/>
<path d="M154.5 377.5 V277.9 M156.5 276.5 H176.5 V295.5" fill="none" stroke="#1e1e1e" stroke-width="1.2"/>
<path d="M165.5 299.4 V297 Q165.5 295.5 167 295.5 H187 Q188.5 295.5 188.5 297 V299.4" fill="none" stroke="#1e1e1e" stroke-width="1.2"/>
<path d="M157.6 264.2L158.18 265.7L159.77 265.45L158.75 266.7L159.77 267.95L158.18 267.7L157.6 269.2L157.03 267.7L155.43 267.95L156.45 266.7L155.43 265.45L157.03 265.7ZM164.3 264.2L164.88 265.7L166.47 265.45L165.45 266.7L166.47 267.95L164.88 267.7L164.3 269.2L163.73 267.7L162.13 267.95L163.15 266.7L162.13 265.45L163.73 265.7ZM171 264.2L171.58 265.7L173.17 265.45L172.15 266.7L173.17 267.95L171.58 267.7L171 269.2L170.43 267.7L168.83 267.95L169.85 266.7L168.83 265.45L170.43 265.7Z" fill="#111" stroke="#111" stroke-width="0.5" stroke-linejoin="round"/>
<path d="M196.5 341.9 V340 Q196.5 338.5 198 338.5 H220 Q221.5 338.5 221.5 340 V341.9" fill="none" stroke="#1e1e1e" stroke-width="1.2"/>
<path d="M211.5 338.5 V293.5 H235.5 V300.6" fill="none" stroke="#1e1e1e" stroke-width="1.2"/>
<path d="M221.5 305.8 V304 Q221.5 302.5 223 302.5 H245 Q246.5 302.5 246.5 304 V305.8" fill="none" stroke="#1e1e1e" stroke-width="1.2"/>
<path d="M215.4 285.1L215.97 286.6L217.57 286.35L216.55 287.6L217.57 288.85L215.97 288.6L215.4 290.1L214.83 288.6L213.23 288.85L214.25 287.6L213.23 286.35L214.83 286.6ZM222.1 285.1L222.67 286.6L224.27 286.35L223.25 287.6L224.27 288.85L222.67 288.6L222.1 290.1L221.53 288.6L219.93 288.85L220.95 287.6L219.93 286.35L221.53 286.6ZM228.8 285.1L229.38 286.6L230.97 286.35L229.95 287.6L230.97 288.85L229.38 288.6L228.8 290.1L228.23 288.6L226.63 288.85L227.65 287.6L226.63 286.35L228.23 286.6Z" fill="#111" stroke="#111" stroke-width="0.5" stroke-linejoin="round"/>
<path d="M253.5 438.5 V436 Q253.5 434.5 255 434.5 H275 Q276.5 434.5 276.5 436 V438.5" fill="none" stroke="#1e1e1e" stroke-width="1.2"/>
<path d="M264.5 434.5 V354.55 M266 353.5 H287.5 V367.5" fill="none" stroke="#1e1e1e" stroke-width="1.2"/>
<path d="M275.5 370.7 V369 Q275.5 367.5 277 367.5 H299 Q300.5 367.5 300.5 369 V370.7" fill="none" stroke="#1e1e1e" stroke-width="1.2"/>
<path d="M270.9 344L271.48 345.5L273.07 345.25L272.05 346.5L273.07 347.75L271.48 347.5L270.9 349L270.33 347.5L268.73 347.75L269.75 346.5L268.73 345.25L270.33 345.5ZM277.6 344L278.18 345.5L279.77 345.25L278.75 346.5L279.77 347.75L278.18 347.5L277.6 349L277.03 347.5L275.43 347.75L276.45 346.5L275.43 345.25L277.03 345.5ZM284.3 344L284.88 345.5L286.47 345.25L285.45 346.5L286.47 347.75L284.88 347.5L284.3 349L283.73 347.5L282.13 347.75L283.15 346.5L282.13 345.25L283.73 345.5Z" fill="#111" stroke="#111" stroke-width="0.5" stroke-linejoin="round"/>
<path d="M307.5 382.3 V379 Q307.5 377.5 309 377.5 H329 Q330.5 377.5 330.5 379 V382.3" fill="none" stroke="#1e1e1e" stroke-width="1.2"/>
<path d="M321.5 377.5 V274.18 M323.9 272.5 H346.5 V286.5" fill="none" stroke="#1e1e1e" stroke-width="1.2"/>
<path d="M331.5 290.5 V288 Q331.5 286.5 333 286.5 H355 Q356.5 286.5 356.5 288 V290.5" fill="none" stroke="#1e1e1e" stroke-width="1.2"/>
<path d="M326.5 261.2L327.07 262.7L328.67 262.45L327.65 263.7L328.67 264.95L327.07 264.7L326.5 266.2L325.93 264.7L324.33 264.95L325.35 263.7L324.33 262.45L325.93 262.7ZM333.2 261.2L333.77 262.7L335.37 262.45L334.35 263.7L335.37 264.95L333.77 264.7L333.2 266.2L332.62 264.7L331.03 264.95L332.05 263.7L331.03 262.45L332.62 262.7ZM339.9 261.2L340.47 262.7L342.07 262.45L341.05 263.7L342.07 264.95L340.47 264.7L339.9 266.2L339.32 264.7L337.73 264.95L338.75 263.7L337.73 262.45L339.32 262.7Z" fill="#111" stroke="#111" stroke-width="0.5" stroke-linejoin="round"/>
<path d="M360.5 425.8 V423 Q360.5 421.5 362 421.5 H383 Q384.5 421.5 384.5 423 V425.8" fill="none" stroke="#1e1e1e" stroke-width="1.2"/>
<path d="M374.5 421.5 V375.5 H397.5 V382.5" fill="none" stroke="#1e1e1e" stroke-width="1.2"/>
<path d="M384.5 386.2 V384 Q384.5 382.5 386 382.5 H408 Q409.5 382.5 409.5 384 V386.2" fill="none" stroke="#1e1e1e" stroke-width="1.2"/>
<path d="M380.3 367L380.88 368.5L382.47 368.25L381.45 369.5L382.47 370.75L380.88 370.5L380.3 372L379.73 370.5L378.13 370.75L379.15 369.5L378.13 368.25L379.73 368.5ZM387 367L387.57 368.5L389.17 368.25L388.15 369.5L389.17 370.75L387.57 370.5L387 372L386.43 370.5L384.83 370.75L385.85 369.5L384.83 368.25L386.43 368.5ZM393.7 367L394.27 368.5L395.87 368.25L394.85 369.5L395.87 370.75L394.27 370.5L393.7 372L393.12 370.5L391.53 370.75L392.55 369.5L391.53 368.25L393.12 368.5Z" fill="#111" stroke="#111" stroke-width="0.5" stroke-linejoin="round"/>
<path d="M166.5 678.3 V676 Q166.5 674.5 168 674.5 H189 Q190.5 674.5 190.5 676 V678.3" fill="none" stroke="#1e1e1e" stroke-width="1.2"/>
<path d="M176.5 674.5 V667.5 H262.5 V708.5" fill="none" stroke="#1e1e1e" stroke-width="1.2"/>
<path d="M250.5 712.6 V710 Q250.5 708.5 252 708.5 H272 Q273.5 708.5 273.5 710 V712.6" fill="none" stroke="#1e1e1e" stroke-width="1.2"/>
<path d="M399.5 536.7 V534 Q399.5 532.5 401 532.5 H422 Q423.5 532.5 423.5 534 V536.7" fill="none" stroke="#1e1e1e" stroke-width="1.2"/>
<path d="M408.5 532.5 V524.5 H496.5 M496.5 526.1 V652.5" fill="none" stroke="#1e1e1e" stroke-width="1.2"/>
<path d="M481.5 656.5 V654 Q481.5 652.5 483 652.5 H505 Q506.5 652.5 506.5 654 V656.5" fill="none" stroke="#1e1e1e" stroke-width="1.2"/>
<text x="188.4" y="665.8" font-size="10.4" fill="#111" stroke="#111" stroke-width="0.42"><tspan font-style="italic">p</tspan> &lt; 0.001</text>
<text x="436.6" y="520.8" font-size="10.4" fill="#111" stroke="#111" stroke-width="0.42"><tspan font-style="italic">p</tspan> &lt; 0.001</text>
<path d="M90.3 58.25L90.88 59.4L92.16 59.32L91.45 60.4L92.16 61.48L90.88 61.4L90.3 62.55L89.72 61.4L88.44 61.48L89.15 60.4L88.44 59.32L89.72 59.4ZM96.1 58.25L96.67 59.4L97.96 59.32L97.25 60.4L97.96 61.48L96.67 61.4L96.1 62.55L95.52 61.4L94.24 61.48L94.95 60.4L94.24 59.32L95.52 59.4ZM101.9 58.25L102.47 59.4L103.76 59.32L103.05 60.4L103.76 61.48L102.47 61.4L101.9 62.55L101.32 61.4L100.04 61.48L100.75 60.4L100.04 59.32L101.32 59.4Z" fill="#111" stroke="#111" stroke-width="0.5" stroke-linejoin="round"/>
<path d="M96.05 74.95L96.62 76.1L97.91 76.02L97.2 77.1L97.91 78.17L96.62 78.1L96.05 79.25L95.47 78.1L94.19 78.17L94.9 77.1L94.19 76.02L95.47 76.1ZM101.85 74.95L102.42 76.1L103.71 76.02L103 77.1L103.71 78.17L102.42 78.1L101.85 79.25L101.27 78.1L99.99 78.17L100.7 77.1L99.99 76.02L101.27 76.1Z" fill="#111" stroke="#111" stroke-width="0.5" stroke-linejoin="round"/>
<text x="104.4" y="66.8" font-size="10.2" fill="#111" stroke="#111" stroke-width="0.42">p &lt; 0.001</text>
<text x="104.4" y="83.2" font-size="10.2" fill="#111" stroke="#111" stroke-width="0.42">p &lt; 0.01</text>
<path d="M90.3 285.75L90.88 286.9L92.16 286.82L91.45 287.9L92.16 288.97L90.88 288.9L90.3 290.05L89.72 288.9L88.44 288.97L89.15 287.9L88.44 286.82L89.72 286.9ZM96.1 285.75L96.67 286.9L97.96 286.82L97.25 287.9L97.96 288.97L96.67 288.9L96.1 290.05L95.52 288.9L94.24 288.97L94.95 287.9L94.24 286.82L95.52 286.9ZM101.9 285.75L102.47 286.9L103.76 286.82L103.05 287.9L103.76 288.97L102.47 288.9L101.9 290.05L101.32 288.9L100.04 288.97L100.75 287.9L100.04 286.82L101.32 286.9Z" fill="#111" stroke="#111" stroke-width="0.5" stroke-linejoin="round"/>
<path d="M96.05 303.15L96.62 304.3L97.91 304.23L97.2 305.3L97.91 306.38L96.62 306.3L96.05 307.45L95.47 306.3L94.19 306.38L94.9 305.3L94.19 304.23L95.47 304.3ZM101.85 303.15L102.42 304.3L103.71 304.23L103 305.3L103.71 306.38L102.42 306.3L101.85 307.45L101.27 306.3L99.99 306.38L100.7 305.3L99.99 304.23L101.27 304.3Z" fill="#111" stroke="#111" stroke-width="0.5" stroke-linejoin="round"/>
<text x="104.4" y="294.7" font-size="10.2" fill="#111" stroke="#111" stroke-width="0.42">p &lt; 0.001</text>
<text x="104.4" y="311.3" font-size="10.2" fill="#111" stroke="#111" stroke-width="0.42">p &lt; 0.01</text>
<rect x="404.5" y="112.5" width="6" height="6" fill="#ffffff" stroke="#333" stroke-width="1"/>
<text transform="translate(414 118.8) scale(0.88 1)" font-size="9.7" fill="#2a2a2a" stroke="#2a2a2a" stroke-width="0.5" letter-spacing="0.5">DC</text>
<rect x="404.5" y="132.5" width="6" height="6" fill="#b2b2b2" stroke="#333" stroke-width="1"/>
<text transform="translate(414 138.7) scale(0.88 1)" font-size="9.7" fill="#2a2a2a" stroke="#2a2a2a" stroke-width="0.5" letter-spacing="0.5">Ag-DC</text>
<rect x="404.5" y="152.5" width="6" height="6" fill="#6f6f6f" stroke="#333" stroke-width="1"/>
<text transform="translate(414 158.4) scale(0.88 1)" font-size="9.7" fill="#2a2a2a" stroke="#2a2a2a" stroke-width="0.5" letter-spacing="0.5">NK1R-DC</text>
<rect x="404.5" y="172.5" width="6" height="6" fill="#000000" stroke="#333" stroke-width="1"/>
<text transform="translate(414 178.2) scale(0.88 1)" font-size="9.7" fill="#2a2a2a" stroke="#2a2a2a" stroke-width="0.5" letter-spacing="0.5">Ag-NK1R-DC</text>
<rect x="416.5" y="342.5" width="6" height="6" fill="#ffffff" stroke="#333" stroke-width="1"/>
<text transform="translate(425.6 348.7) scale(0.88 1)" font-size="9.7" fill="#2a2a2a" stroke="#2a2a2a" stroke-width="0.5" letter-spacing="0.5">DC</text>
<rect x="416.5" y="362.5" width="6" height="6" fill="#b2b2b2" stroke="#333" stroke-width="1"/>
<text transform="translate(425.6 368.6) scale(0.88 1)" font-size="9.7" fill="#2a2a2a" stroke="#2a2a2a" stroke-width="0.5" letter-spacing="0.5">Ag-DC</text>
<rect x="416.5" y="382.5" width="6" height="6" fill="#6f6f6f" stroke="#333" stroke-width="1"/>
<text transform="translate(425.6 388.3) scale(0.88 1)" font-size="9.7" fill="#2a2a2a" stroke="#2a2a2a" stroke-width="0.5" letter-spacing="0.5">NK1R-DC</text>
<rect x="416.5" y="401.5" width="6" height="6" fill="#000000" stroke="#333" stroke-width="1"/>
<text transform="translate(425.6 408.1) scale(0.88 1)" font-size="9.7" fill="#2a2a2a" stroke="#2a2a2a" stroke-width="0.5" letter-spacing="0.5">Ag-NK1R-DC</text>
<rect x="69.5" y="545.5" width="9" height="6" fill="#000" stroke="#000" stroke-width="1.0"/>
<rect x="70.5" y="558.5" width="9" height="6" fill="#fff" stroke="#222" stroke-width="1.0"/>
<text x="87" y="552.1" font-size="10.6" text-anchor="start" font-weight="normal" fill="#111" stroke="#111" stroke-width="0.42" >IL-12p70</text>
<text x="87" y="565.6" font-size="10.6" text-anchor="start" font-weight="normal" fill="#111" stroke="#111" stroke-width="0.42" >IL-10</text>
</svg></body></html>
